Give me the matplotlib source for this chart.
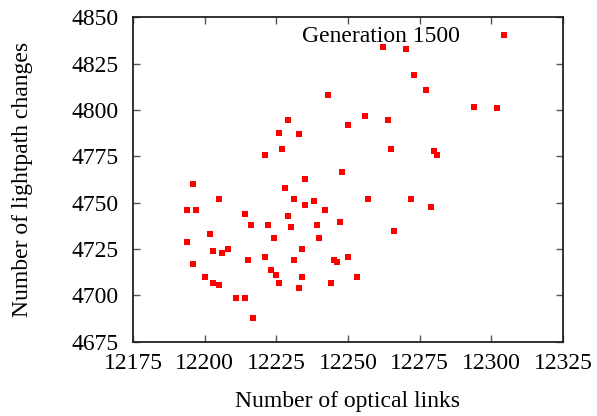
import matplotlib
matplotlib.use("Agg")
import matplotlib.pyplot as plt

plt.rcParams['font.family'] = ['Liberation Serif', 'DejaVu Serif']

# --- data
links = [12243.0, 12229.1, 12225.9, 12232.9, 12227.0, 12220.9,
         12304.4, 12262.1, 12270.2, 12273.0, 12277.2, 12293.9, 12302.0,
         12255.9, 12250.1, 12263.9, 12265.0, 12280.0, 12280.9, 12247.9,
         12195.9, 12193.8, 12197.0, 12204.9, 12214.0, 12216.2, 12193.8,
         12201.9, 12202.9, 12206.0, 12208.1, 12195.9, 12200.1, 12202.9,
         12205.0, 12215.1, 12210.9, 12214.0, 12216.9, 12228.0, 12235.0,
         12231.2, 12235.0, 12238.1, 12242.0, 12229.1, 12230.1, 12222.1,
         12224.2, 12239.2, 12239.9, 12233.9, 12220.9, 12231.2, 12223.1,
         12224.9, 12225.9, 12233.9, 12232.9, 12244.1, 12245.1, 12246.2,
         12257.0, 12272.0, 12278.9, 12247.2, 12266.0, 12250.0, 12253.1]
changes = [4808.3, 4794.6, 4787.6, 4787.1, 4779.1, 4775.9,
           4840.5, 4834.1, 4832.9, 4819.0, 4811.0, 4801.8, 4801.2,
           4796.8, 4791.9, 4794.6, 4779.1, 4778.0, 4775.9, 4766.6,
           4760.1, 4746.1, 4746.1, 4752.0, 4743.9, 4738.0, 4728.8,
           4733.3, 4724.1, 4722.9, 4725.0, 4716.9, 4709.9, 4706.7,
           4705.6, 4719.1, 4698.6, 4698.6, 4687.8, 4757.9, 4762.8,
           4752.0, 4748.9, 4751.1, 4746.1, 4742.8, 4736.9, 4738.0,
           4731.0, 4738.0, 4731.0, 4725.0, 4720.7, 4719.1, 4713.7,
           4711.0, 4706.7, 4709.9, 4704.0, 4706.7, 4719.1, 4718.0,
           4752.0, 4752.0, 4747.7, 4739.6, 4734.7, 4720.7, 4709.9]

xticks = [12175, 12200, 12225, 12250, 12275, 12300, 12325]
yticks = [4675, 4700, 4725, 4750, 4775, 4800, 4825, 4850]

fig = plt.figure(figsize=(5.97, 4.16), dpi=100)
ax = fig.add_axes([0.2228, 0.1786, 0.7202, 0.7798])

ax.plot(links, changes, 's', color='red', markersize=4.3, markeredgewidth=0)

ax.set_xlim(12175, 12325)
ax.set_ylim(4675, 4850)
ax.set_xticks(xticks)
ax.set_yticks(yticks)
ax.tick_params(direction='in', length=5, width=1, top=True, right=True,
               labelsize=17, color='#555555')
ax.tick_params(axis='x', pad=8)
ax.tick_params(axis='y', pad=10)
for s in ax.spines.values():
    s.set_linewidth(1.3)
    s.set_color('#222222')

ax.set_xlabel('Number of optical links', fontsize=17)
ax.set_ylabel('Number of lightpath changes', fontsize=17)
ax.xaxis.set_label_coords(0.5, -0.152)
ax.yaxis.set_label_coords(-0.2326, 0.5)
ax.text(0.5756, 0.924, 'Generation 1500', transform=ax.transAxes,
        fontsize=17, ha='center', va='baseline')

fig.savefig('out.png', dpi=100)
